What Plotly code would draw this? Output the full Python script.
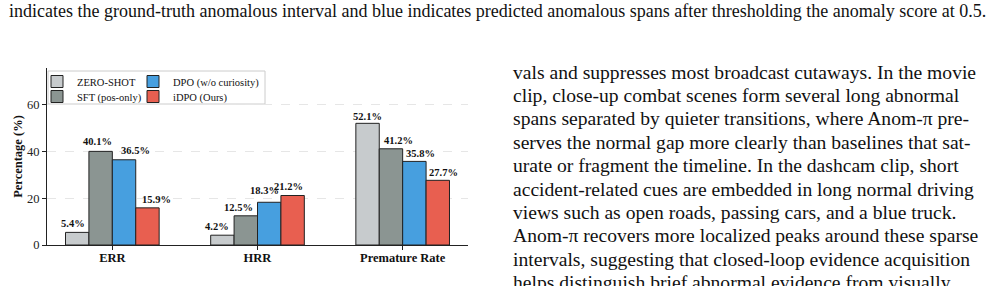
import plotly.graph_objects as go

categories = ["ERR", "HRR", "Premature Rate"]
series_names = ["ZERO-SHOT", "SFT (pos-only)", "DPO (w/o curiosity)", "iDPO (Ours)"]
zero_shot = [5.4, 4.2, 52.1]
sft = [40.1, 12.5, 41.2]
dpo = [36.5, 18.3, 35.8]
idpo = [15.9, 21.2, 27.7]
colors = ["#C7CBCD", "#8B9592", "#479FDF", "#E85F50"]
y_ticks = [0, 20, 40, 60]

# value-label nudges (pixels) as placed in the original figure
label_dx = [[-4.6, -5.6, 0.0], [-3.5, -7.7, 7.1], [11.1, -5.1, 6.0], [8.7, -4.5, 5.8]]
label_dy = [[9.0, 9.0, 7.3], [9.7, 8.5, 8.0], [9.0, 11.6, 8.0], [8.0, 8.8, 8.0]]

caption = ("indicates the ground-truth anomalous interval and blue indicates predicted "
           "anomalous spans after thresholding the anomaly score at 0.5.")
body_lines = [
    "vals and suppresses most broadcast cutaways. In the movie",
    "clip, close-up combat scenes form several long abnormal",
    "spans separated by quieter transitions, where Anom-\u03c0 pre-",
    "serves the normal gap more clearly than baselines that sat-",
    "urate or fragment the timeline. In the dashcam clip, short",
    "accident-related cues are embedded in long normal driving",
    "views such as open roads, passing cars, and a blue truck.",
    "Anom-\u03c0 recovers more localized peaks around these sparse",
    "intervals, suggesting that closed-loop evidence acquisition",
    "helps distinguish brief abnormal evidence from visually",
]

W, H = 988, 286
L, R, T, B = 47, 468, 68, 245
pw, ph = R - L, B - T
XR = [-0.45, 2.45]


def px(x):
    return (x - L) / pw


def py(y):
    return (B - y) / ph


FONT = "Liberation Serif, Times New Roman, serif"
GAP = 0.355
unit_px = pw / (XR[1] - XR[0])
bar_px = (1 - GAP) / 4 * unit_px
legend_ids = ["legend", "legend2", "legend3", "legend4"]
legend_pos = [(37, 67), (37, 82), (133, 67), (133, 82)]

fig = go.Figure()
all_vals = [zero_shot, sft, dpo, idpo]
for i, (name, vals, col) in enumerate(zip(series_names, all_vals, colors)):
    fig.add_trace(go.Bar(
        x=categories, y=vals, name=name,
        marker=dict(color=col, line=dict(color="#222222", width=1)),
        legend=legend_ids[i], hoverinfo="x+y+name",
    ))
    for g, (cat, v) in enumerate(zip(categories, vals)):
        fig.add_annotation(
            x=cat, y=v, xref="x", yref="y", text=f"{v:.1f}%", showarrow=False,
            xanchor="center", yanchor="middle",
            xshift=(i - 1.5) * bar_px + label_dx[i][g], yshift=label_dy[i][g],
            font=dict(family=FONT, size=10.5, color="#111111", weight="bold"),
        )

layout_legends = {}
for lid, (lx, ly) in zip(legend_ids, legend_pos):
    layout_legends[lid] = dict(x=px(lx), y=py(ly), xanchor="left", yanchor="top",
                               bgcolor="rgba(0,0,0,0)", borderwidth=0, itemwidth=30,
                               font=dict(family=FONT, size=10.5, color="#111111"))

fig.update_layout(
    width=W, height=H,
    margin=dict(l=L, r=W - R, t=T, b=H - B, pad=0),
    paper_bgcolor="white", plot_bgcolor="white",
    barmode="group", bargap=GAP, bargroupgap=0,
    font=dict(family=FONT, size=12, color="#222222"),
    showlegend=True,
    xaxis=dict(range=XR, showline=True, linecolor="#222222", linewidth=1,
               ticks="outside", ticklen=4, tickcolor="#222222", showgrid=False,
               ticklabelstandoff=-3,
               tickfont=dict(family=FONT, size=12.5, color="#111111", weight="bold")),
    yaxis=dict(range=[0, 75.8], tickvals=y_ticks, showline=True, linecolor="#222222",
               linewidth=1, ticks="outside", ticklen=4, tickcolor="#222222",
               showgrid=True, gridcolor="#E6E6E6", griddash="dash", gridwidth=0.8,
               zeroline=False,
               tickfont=dict(family=FONT, size=12.5, color="#222222"),
               title=dict(text="Percentage (%)", standoff=1,
                          font=dict(family=FONT, size=12.5, color="#111111", weight="bold"))),
    **layout_legends,
)

fig.add_shape(type="rect", xref="paper", yref="paper",
              x0=px(48), x1=px(265), y0=py(104), y1=py(71),
              line=dict(color="#CCCCCC", width=1), fillcolor="rgba(255,255,255,0.8)",
              layer="below")

fig.add_annotation(text=caption, xref="paper", yref="paper", x=px(7), y=py(11),
                   xanchor="left", yanchor="middle", showarrow=False,
                   font=dict(family=FONT, size=18, color="#111111"))
for k, line in enumerate(body_lines):
    fig.add_annotation(text=line, xref="paper", yref="paper", x=px(511), y=py(72 + 23.4 * k),
                       xanchor="left", yanchor="middle", showarrow=False,
                       font=dict(family=FONT, size=19.6, color="#111111"))

fig.write_html("out.html")
